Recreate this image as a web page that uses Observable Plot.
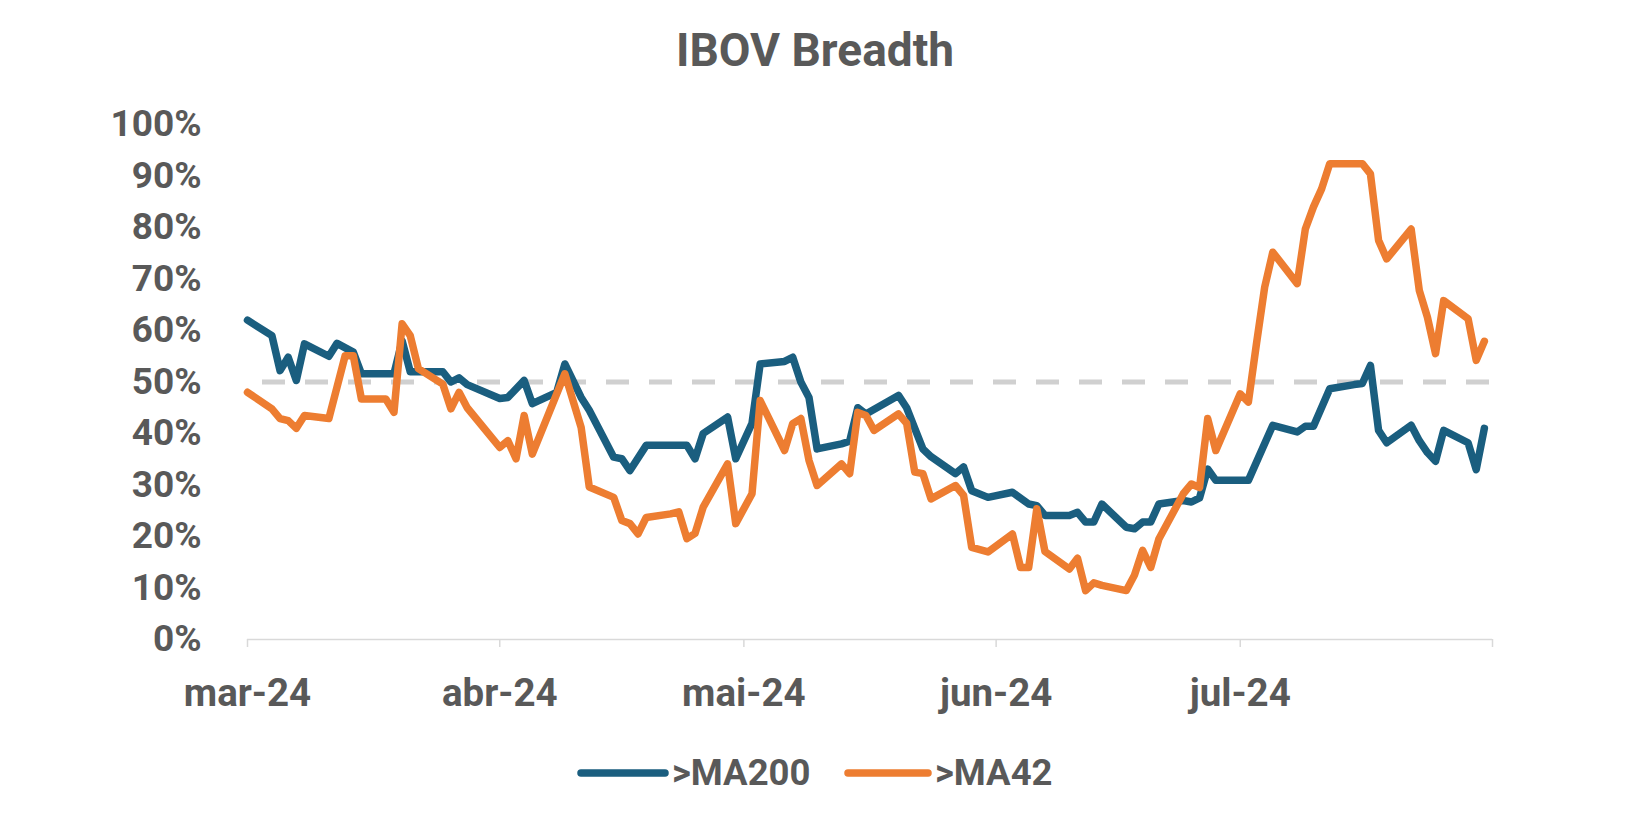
<!DOCTYPE html>
<html>
<head>
<meta charset="utf-8">
<script src="https://cdn.jsdelivr.net/npm/d3@7"></script>
<script src="https://cdn.jsdelivr.net/npm/@observablehq/plot@0.6"></script>
<style>
  html, body { margin: 0; padding: 0; background: #ffffff; }
  body { width: 1638px; height: 828px; position: relative; overflow: hidden;
         font-family: Roboto, "Open Sans", sans-serif; color: #595959; }
  #title { position: absolute; left: 0; top: 27px; width: 1630px; text-align: center;
           font-size: 46px; font-weight: 700; line-height: 1; color: #595959; }
  #chart { position: absolute; left: 0; top: 90px; }
  .legsw { position: absolute; top: 765px; }
  .legtx { position: absolute; top: 755px; font-size: 36.5px; font-weight: 700; line-height: 1; color: #595959; white-space: nowrap; }
</style>
</head>
<body>
<div id="title">IBOV Breadth</div>
<div id="chart"></div>
<svg class="legsw" style="left:574px" width="98" height="16"><line x1="7" y1="8" x2="91" y2="8" stroke="#1a5e7f" stroke-width="7.5" stroke-linecap="round"/></svg>
<div class="legtx" style="left:672px">&gt;MA200</div>
<svg class="legsw" style="left:841px" width="94" height="16"><line x1="7" y1="8" x2="87" y2="8" stroke="#ed7d31" stroke-width="7.5" stroke-linecap="round"/></svg>
<div class="legtx" style="left:935px">&gt;MA42</div>
<script>
// ---- data ----
const seriesNames = [">MA200", ">MA42"];
const seriesColors = ["#1a5e7f", "#ed7d31"];

const ma200Dates = ["2024-03-01","2024-03-04","2024-03-05","2024-03-06","2024-03-07","2024-03-08","2024-03-11","2024-03-12","2024-03-14","2024-03-15","2024-03-19","2024-03-20","2024-03-21","2024-03-25","2024-03-26","2024-03-27","2024-03-28","2024-04-01","2024-04-02","2024-04-04","2024-04-05","2024-04-08","2024-04-09","2024-04-11","2024-04-12","2024-04-15","2024-04-16","2024-04-17","2024-04-19","2024-04-24","2024-04-25","2024-04-26","2024-04-29","2024-04-30","2024-05-02","2024-05-03","2024-05-06","2024-05-07","2024-05-08","2024-05-09","2024-05-10","2024-05-13","2024-05-14","2024-05-15","2024-05-16","2024-05-20","2024-05-21","2024-05-22","2024-05-23","2024-05-24","2024-05-27","2024-05-28","2024-05-29","2024-05-31","2024-06-03","2024-06-05","2024-06-06","2024-06-07","2024-06-10","2024-06-11","2024-06-12","2024-06-13","2024-06-14","2024-06-17","2024-06-18","2024-06-19","2024-06-20","2024-06-21","2024-06-24","2024-06-25","2024-06-26","2024-06-27","2024-06-28","2024-07-01","2024-07-02","2024-07-05","2024-07-08","2024-07-09","2024-07-10","2024-07-12","2024-07-15","2024-07-16","2024-07-17","2024-07-18","2024-07-19","2024-07-22","2024-07-23","2024-07-24","2024-07-25","2024-07-26","2024-07-29","2024-07-30","2024-07-31"];
const ma200Values = [62,59,52.2,54.8,50.3,57.4,55,57.5,55.8,51.6,51.6,58,52,52,50,50.8,49.5,46.8,47,50.3,45.8,48,53.5,47,44.5,35.4,35.1,32.8,37.7,37.7,35.1,40,43.2,35.1,42,53.5,54,54.8,50,47,37,38,38.5,45,43.8,47.4,45,41,37,35.5,32.2,33.5,28.9,27.6,28.6,26.3,26,24.1,24.1,24.7,22.8,22.8,26.3,21.8,21.5,22.8,22.8,26.3,27,26.7,27.5,33.1,30.9,30.9,30.9,41.6,40.3,41.4,41.4,48.7,49.5,49.7,53.2,40.6,38.2,41.6,38.6,36.3,34.6,40.6,38.2,33,41];

const ma42Dates = ["2024-03-01","2024-03-04","2024-03-05","2024-03-06","2024-03-07","2024-03-08","2024-03-11","2024-03-13","2024-03-14","2024-03-15","2024-03-18","2024-03-19","2024-03-20","2024-03-21","2024-03-22","2024-03-25","2024-03-26","2024-03-27","2024-03-28","2024-04-01","2024-04-02","2024-04-03","2024-04-04","2024-04-05","2024-04-09","2024-04-11","2024-04-12","2024-04-15","2024-04-16","2024-04-17","2024-04-18","2024-04-19","2024-04-22","2024-04-23","2024-04-24","2024-04-25","2024-04-26","2024-04-29","2024-04-30","2024-05-02","2024-05-03","2024-05-06","2024-05-07","2024-05-08","2024-05-09","2024-05-10","2024-05-13","2024-05-14","2024-05-15","2024-05-16","2024-05-17","2024-05-20","2024-05-21","2024-05-22","2024-05-23","2024-05-24","2024-05-27","2024-05-28","2024-05-29","2024-05-31","2024-06-03","2024-06-04","2024-06-05","2024-06-06","2024-06-07","2024-06-10","2024-06-11","2024-06-12","2024-06-13","2024-06-14","2024-06-17","2024-06-18","2024-06-19","2024-06-20","2024-06-21","2024-06-24","2024-06-25","2024-06-26","2024-06-27","2024-06-28","2024-07-01","2024-07-02","2024-07-03","2024-07-04","2024-07-05","2024-07-08","2024-07-09","2024-07-10","2024-07-11","2024-07-12","2024-07-15","2024-07-16","2024-07-17","2024-07-18","2024-07-19","2024-07-22","2024-07-23","2024-07-24","2024-07-25","2024-07-26","2024-07-29","2024-07-30","2024-07-31"];
const ma42Values = [48,44.8,42.9,42.5,41,43.5,42.9,55.1,55.1,46.7,46.7,44.1,61.3,59,52.6,49.6,44.8,48,45,37.3,38.6,35.1,43.5,36,51.6,41.2,29.6,27.6,23.1,22.5,20.5,23.7,24.4,24.8,19.6,20.6,25.7,34.1,22.5,28.3,46.4,36.7,41.9,42.9,34.8,29.9,34.1,32.2,44.1,43.5,40.6,43.8,42,32.5,32.2,27.3,29.9,28,17.9,17,20.5,14,14,25.4,17.1,13.7,15.8,9.5,11,10.5,9.5,12.5,17.3,14,19.5,28.3,30.2,29.5,42.9,36.7,47.7,46.1,57.5,68.4,75.2,69.1,79.7,84,87.5,92.4,92.4,92.4,90.4,77.5,73.9,79.7,67.8,62.6,55.5,65.8,62.3,54.2,57.9];

const yTicks = [0,10,20,30,40,50,60,70,80,90,100];
const xTickDates = ["2024-03-01","2024-04-01","2024-05-01","2024-06-01","2024-07-01","2024-08-01"];
const xTickLabels = ["mar-24","abr-24","mai-24","jun-24","jul-24",""];
const referenceLevel = 50;
const xDomain = ["2024-03-01","2024-08-01"];

// ---- build ----
const parse = d3.utcParse("%Y-%m-%d");
const ma200 = ma200Dates.map((d, i) => ({date: parse(d), value: ma200Values[i]}));
const ma42 = ma42Dates.map((d, i) => ({date: parse(d), value: ma42Values[i]}));
const tickDates = xTickDates.map(parse);
const labelMap = new Map(tickDates.map((d, i) => [+d, xTickLabels[i]]));

const chart = Plot.plot({
  width: 1638,
  height: 640,
  marginLeft: 247,
  marginRight: 146,
  marginTop: 34,
  marginBottom: 91,
  style: {fontFamily: "Roboto, 'Open Sans', sans-serif", background: "#ffffff", color: "#595959"},
  x: {type: "utc", domain: xDomain.map(parse), axis: null},
  y: {domain: [0, 100], axis: null},
  marks: [
    Plot.ruleY([0], {stroke: "#d9d9d9", strokeWidth: 1.5}),
    Plot.axisX({ticks: tickDates, tickSize: 8, tickFormat: () => "", stroke: "#d9d9d9", strokeWidth: 1.5, label: null}),
    Plot.axisX({ticks: tickDates.slice(0, 5), tickSize: 0, tickPadding: 39, tickFormat: d => labelMap.get(+d),
                fontSize: 38.5, fontWeight: 700, fill: "#595959", label: null}),
    Plot.axisY({ticks: yTicks, tickSize: 0, tickPadding: 46, tickFormat: d => d + "%",
                fontSize: 37, fontWeight: 700, fill: "#595959", label: null}),
    Plot.ruleY([referenceLevel], {stroke: "#d0d0d0", strokeWidth: 5, strokeDasharray: "23,20", strokeDashoffset: 28}),
    Plot.lineY(ma200, {x: "date", y: "value", stroke: seriesColors[0], strokeWidth: 7.5, strokeLinejoin: "round", strokeLinecap: "round"}),
    Plot.lineY(ma42, {x: "date", y: "value", stroke: seriesColors[1], strokeWidth: 7.5, strokeLinejoin: "round", strokeLinecap: "round"})
  ]
});
document.getElementById("chart").appendChild(chart);
</script>
</body>
</html>
